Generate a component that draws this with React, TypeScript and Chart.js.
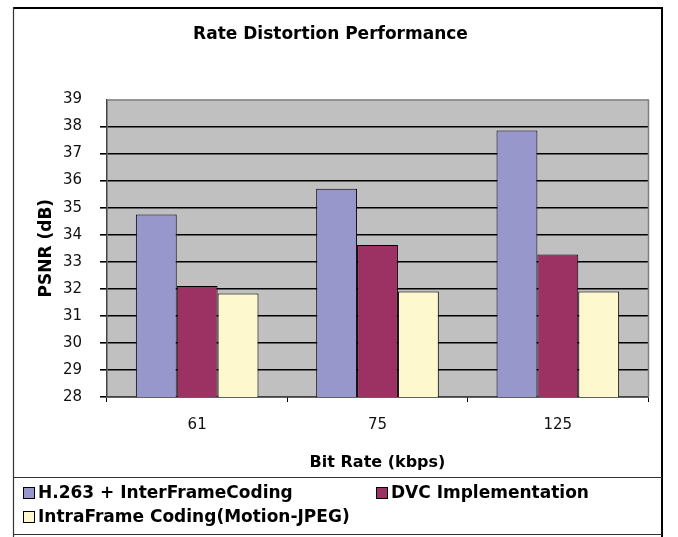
import React, { useEffect, useRef } from 'react';
import { Chart, registerables } from 'chart.js';

Chart.register(...registerables);

const categories = ['61', '75', '125'];
const seriesNames = ['H.263 + InterFrameCoding', 'DVC Implementation', 'IntraFrame Coding(Motion-JPEG)'];
const h263Values = [34.75, 35.7, 37.85];
const dvcValues = [32.1, 33.62, 33.27];
const intraValues = [31.83, 31.9, 31.9];
const yMin = 28;
const yMax = 39;
const yStep = 1;
const seriesColors = ['#9797CB', '#9C3264', '#FDF8CE'];

const FONT = "'DejaVu Sans', 'Liberation Sans', Arial, sans-serif";

const framePlugin = {
  id: 'frame',
  beforeDraw(chart: any) {
    const { ctx, chartArea } = chart;
    ctx.save();
    ctx.fillStyle = '#FFFFFF';
    ctx.fillRect(0, 0, chart.width, chart.height);
    ctx.fillStyle = '#C0C0C0';
    ctx.fillRect(chartArea.left, chartArea.top, chartArea.right - chartArea.left, chartArea.bottom - chartArea.top);
    ctx.restore();
  },
  afterDraw(chart: any) {
    const { ctx, chartArea } = chart;
    ctx.save();
    // plot area border (top & right)
    ctx.strokeStyle = '#808080';
    ctx.lineWidth = 1.5;
    ctx.beginPath();
    ctx.moveTo(chartArea.left, chartArea.top + 0.5);
    ctx.lineTo(chartArea.right + 0.5, chartArea.top + 0.5);
    ctx.lineTo(chartArea.right + 0.5, chartArea.bottom);
    ctx.stroke();

    // outer frame
    ctx.strokeStyle = '#000000';
    ctx.lineWidth = 2;
    ctx.beginPath();
    ctx.moveTo(13, 8);
    ctx.lineTo(662, 8);
    ctx.stroke();
    ctx.beginPath();
    ctx.moveTo(662, 7);
    ctx.lineTo(662, 537);
    ctx.stroke();
    ctx.strokeStyle = '#333333';
    ctx.lineWidth = 1.2;
    ctx.beginPath();
    ctx.moveTo(13.5, 7);
    ctx.lineTo(13.5, 537);
    ctx.stroke();

    // legend box lines
    ctx.strokeStyle = '#333333';
    ctx.lineWidth = 1.2;
    ctx.beginPath();
    ctx.moveTo(13, 477.5);
    ctx.lineTo(662, 477.5);
    ctx.moveTo(13, 534.5);
    ctx.lineTo(662, 534.5);
    ctx.stroke();

    // legend entries
    const ds = chart.data.datasets;
    const pos = [
      { x: 23, y: 493 },
      { x: 376, y: 493 },
      { x: 23, y: 517 },
    ];
    ctx.font = `bold 17px ${FONT}`;
    ctx.textBaseline = 'middle';
    ctx.textAlign = 'left';
    ds.forEach((d: any, i: number) => {
      const p = pos[i];
      ctx.fillStyle = d.backgroundColor;
      ctx.fillRect(p.x, p.y - 5.5, 11, 11);
      ctx.strokeStyle = '#000000';
      ctx.lineWidth = 1;
      ctx.strokeRect(p.x + 0.5, p.y - 5.5, 11, 11);
      ctx.fillStyle = '#000000';
      ctx.fillText(d.label, p.x + 15, p.y + 1);
    });
    ctx.restore();
  },
};

export default function App() {
  const canvasRef = useRef<HTMLCanvasElement | null>(null);

  useEffect(() => {
    if (!canvasRef.current) return;
    const chart = new Chart(canvasRef.current, {
      type: 'bar',
      data: {
        labels: categories,
        datasets: [
          { label: seriesNames[0], data: h263Values, backgroundColor: seriesColors[0] },
          { label: seriesNames[1], data: dvcValues, backgroundColor: seriesColors[1] },
          { label: seriesNames[2], data: intraValues, backgroundColor: seriesColors[2] },
        ].map((d) => ({
          ...d,
          borderColor: '#000000',
          borderWidth: 1,
          categoryPercentage: 0.68,
          barPercentage: 1.0,
        })),
      },
      options: {
        responsive: false,
        animation: false,
        layout: { padding: { left: 13, right: 30, top: 9, bottom: 62 } },
        plugins: {
          legend: { display: false },
          tooltip: { enabled: false },
          title: {
            display: true,
            text: 'Rate Distortion Performance',
            color: '#000000',
            font: { family: FONT, weight: 'bold', size: 17 },
            padding: { top: 15, bottom: 55 },
          },
        },
        scales: {
          x: {
            grid: {
              display: true,
              drawOnChartArea: false,
              drawTicks: true,
              tickLength: 5,
              color: '#000000',
              offset: true,
            },
            border: { display: true, color: '#444444', width: 1.5 },
            ticks: {
              color: '#111111',
              font: { family: FONT, size: 15 },
              padding: 14,
            },
            title: {
              display: true,
              text: 'Bit Rate (kbps)',
              color: '#000000',
              font: { family: FONT, weight: 'bold', size: 16 },
              padding: { top: 0, bottom: 3 },
            },
            afterFit(scale: any) {
              scale.height = 78;
            },
          },
          y: {
            min: yMin,
            max: yMax,
            grid: {
              color: (c: any) => (c.tick && c.tick.value === yMax ? 'rgba(0,0,0,0)' : '#000000'),
              lineWidth: 1.6,
              tickLength: 7,
              drawTicks: true,
            },
            border: { display: true, color: '#444444', width: 1.5 },
            ticks: {
              stepSize: yStep,
              color: '#111111',
              font: { family: FONT, size: 15 },
              padding: 18,
            },
            title: {
              display: true,
              text: 'PSNR (dB)',
              color: '#000000',
              font: { family: FONT, weight: 'bold', size: 17 },
              padding: { top: 23, bottom: 0 },
            },
            afterFit(scale: any) {
              scale.width = 94;
            },
          },
        },
      },
      plugins: [framePlugin],
    } as any);
    return () => chart.destroy();
  }, []);

  return (
    <div style={{ position: 'absolute', left: 0, top: 0, width: 678, height: 537, background: '#ffffff' }}>
      <canvas ref={canvasRef} width={678} height={537} style={{ display: 'block' }} />
    </div>
  );
}
